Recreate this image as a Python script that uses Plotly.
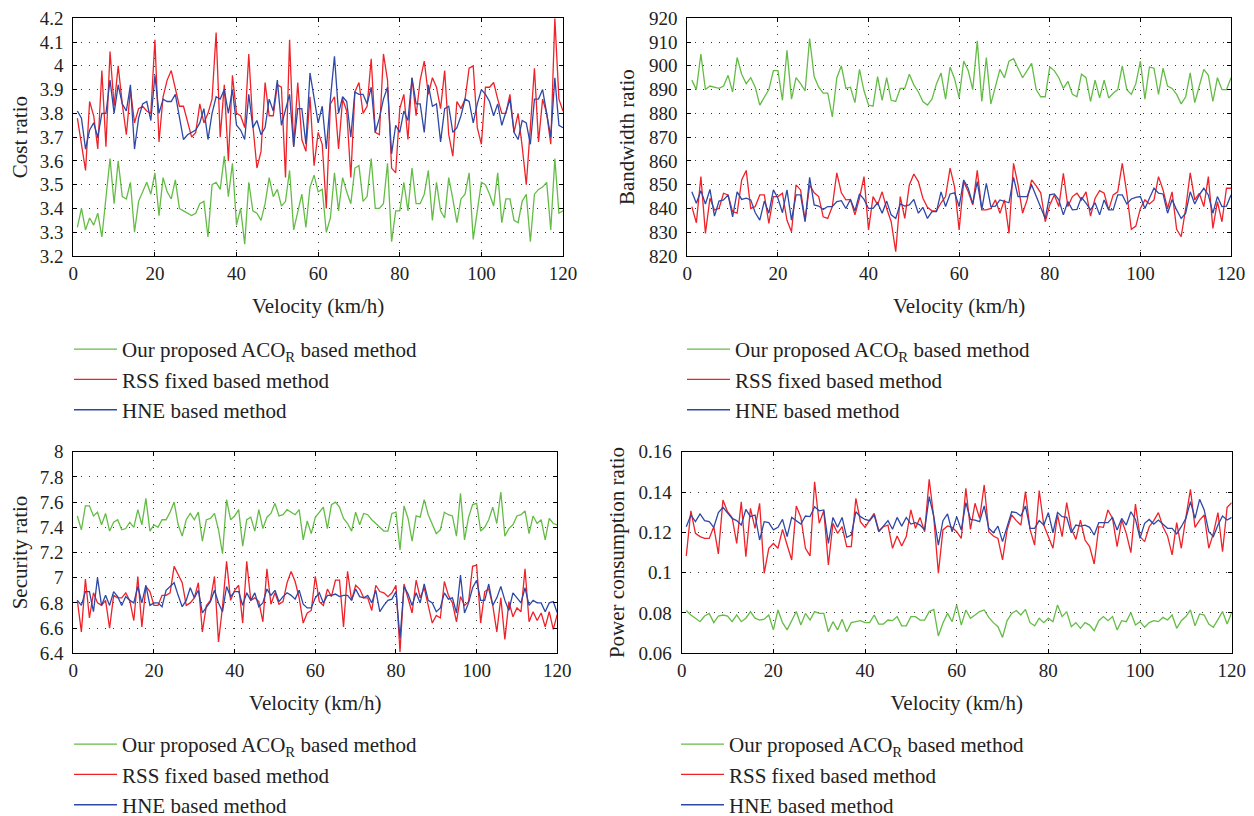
import plotly.graph_objects as go

velocity = list(range(1, 121))

# ---- Cost ratio ----
cost_aco = [3.32,3.40,3.31,3.36,3.33,3.38,3.28,3.45,3.61,3.42,3.60,3.45,3.44,3.51,3.30,3.43,3.47,3.51,3.46,3.55,
            3.37,3.53,3.47,3.44,3.52,3.40,3.39,3.38,3.37,3.38,3.42,3.43,3.28,3.50,3.51,3.48,3.62,3.45,3.59,3.33,
            3.40,3.25,3.51,3.39,3.38,3.35,3.42,3.53,3.45,3.48,3.41,3.43,3.56,3.31,3.38,3.46,3.32,3.49,3.54,3.47,
            3.48,3.30,3.36,3.55,3.39,3.53,3.47,3.42,3.57,3.58,3.43,3.45,3.61,3.40,3.40,3.42,3.59,3.26,3.39,3.39,
            3.51,3.39,3.57,3.42,3.42,3.46,3.56,3.35,3.51,3.39,3.36,3.53,3.44,3.34,3.44,3.46,3.55,3.27,3.39,3.51,
            3.50,3.46,3.41,3.55,3.34,3.44,3.44,3.35,3.34,3.43,3.46,3.26,3.46,3.48,3.49,3.51,3.31,3.61,3.38,3.39]
cost_rss = [3.78,3.66,3.56,3.85,3.79,3.65,3.98,3.66,4.06,3.83,4.00,3.84,3.71,3.90,3.76,3.82,3.83,3.81,3.80,4.11,
            3.68,3.87,3.94,3.98,3.90,3.83,3.83,3.76,3.70,3.72,3.84,3.76,3.80,3.86,4.14,3.70,3.92,3.60,3.96,3.80,
            3.79,3.74,4.05,3.75,3.57,3.64,3.93,3.79,3.79,3.92,3.91,3.53,4.11,3.66,3.93,3.69,
            3.64,3.87,3.58,3.72,3.67,3.40,3.84,3.87,3.65,3.86,3.81,3.53,3.89,3.93,3.80,3.83,4.03,3.72,3.71,4.05,
            3.94,3.57,3.55,3.82,3.88,3.69,3.95,3.79,3.94,4.02,3.88,3.95,3.91,3.82,3.98,3.71,3.62,3.85,3.82,3.86,
            3.99,4.00,3.74,3.67,3.91,3.91,3.93,3.86,3.80,3.80,3.88,3.72,3.80,3.66,3.50,3.74,3.99,3.68,3.86,3.80,
            3.67,4.20,3.86,3.81]
cost_hne = [3.81,3.78,3.65,3.73,3.76,3.70,3.80,3.80,3.94,3.80,3.92,3.84,3.81,3.92,3.65,3.78,3.84,3.85,3.77,3.96,
            3.80,3.86,3.85,3.85,3.88,3.78,3.69,3.71,3.72,3.73,3.76,3.82,3.69,3.80,3.87,3.86,3.90,3.80,3.90,3.75,
            3.73,3.69,3.88,3.74,3.77,3.71,3.74,3.86,3.81,3.94,3.75,3.81,3.88,3.66,3.82,3.82,3.67,
            3.97,3.87,3.76,3.83,3.65,3.86,4.04,3.80,3.87,3.85,3.70,3.89,3.88,3.88,3.84,3.91,3.72,3.78,3.86,3.91,
            3.63,3.75,3.72,3.81,3.77,3.95,3.84,3.84,3.72,3.92,3.83,3.84,3.68,3.82,3.83,3.72,3.74,3.79,3.86,3.85,
            3.76,3.84,3.90,3.88,3.85,3.79,3.84,3.75,3.81,3.86,3.72,3.69,3.77,3.76,3.67,3.86,3.86,3.90,3.80,3.70,
            3.95,3.75,3.74]

# ---- Bandwidth ratio ----
bw_aco = [894,890,905,890,891.5,891,890.5,891.5,896,889,903.5,896.5,892.5,895,891,883.5,887,890,898,898,
          885.5,906.5,886,895,892.5,889.5,911.5,895.5,891,888.5,888.5,878.5,895,900,890.5,891,884.5,898.5,889.5,883.5,
          883,895.5,885.5,895,885.5,885,890.5,890.5,896.5,892,889,885,883.5,886,892.5,
          897,886,899.5,894.5,886.5,902,898,890,910.5,885,903.5,884,891,898.5,895,902,903,899,895,898,
          901,890,887,887,899.5,898,895,890.5,893.5,888,887,896.5,895,885,894,886.5,894,886.5,888.5,890,
          900,890,888,892.5,902,886,899.5,899,888,899,891.5,890.5,888,884,887,897,884.5,891.5,898.5,896,
          885,895,890,890,895]
bw_rss = [840.8,834,853.4,829.5,844.3,839.4,840,846.4,845.7,838.7,838,852,856,840,840.8,845.7,845.7,833.7,845,845,
          846.4,835,830.2,849.9,847.8,835,849.9,846.6,845,836.5,835.8,840.8,855,846.6,843.6,843.8,837.3,844.3,853.4,831,
          845,841.5,847,840,834.4,821.8,845,835.8,849.9,854.5,851.3,844.3,840.5,839,839,
          842.4,845,857,849,831,851.3,847,841.5,856,839.4,839.4,840,843.6,838,843.6,829.5,859,849.9,838,843.6,
          852,849.5,846.6,834.4,841.5,845.7,840.8,854.8,840.8,845,846.4,843.6,847,836.8,844.3,847.5,846.4,839.4,845.7,847,
          859,846.4,831.2,832.6,840,843.6,841.9,843.6,853.4,847.8,840,847,831.2,828.1,840,855,843.6,846.4,840.8,853.4,
          831.6,842.9,834.4,848.5,848.5]
bw_hne = [847,842.2,847.5,841.9,848,836.8,843.1,843.6,845.7,836.5,847,843.8,844.3,843.6,838.2,835.1,843.1,838,847.8,844.3,
          838.2,847.8,835.1,845.7,845.7,834.4,853.1,841.5,841,839.6,840.8,840.8,842.9,843.3,840,843.8,839,846.1,843.8,840,
          840,842.4,838,843.1,837.3,835.8,841.9,841,841.5,843.8,838,840.5,835.8,838.7,838.7,
          847,840.8,846.1,846.6,840.8,852,848.5,841.9,851.3,839.6,850.6,840.8,841,843.6,842.9,842.4,853.1,845,845,845,
          849.9,845,840,835.8,845.7,846.1,843.6,837.3,842.9,839.4,839.6,844.7,842.2,839.4,842.4,837.3,843.6,839.4,839.4,845.7,
          845.7,841.9,844,844.7,845,840,844.3,848.5,846.4,846.1,838,843.8,839.4,835.8,838,847,841.9,845.7,848.5,845.7,
          838,845,840.8,841,845.7]

# ---- Security ratio ----
sec_aco = [7.49,7.38,7.57,7.57,7.49,7.52,7.42,7.51,7.37,7.44,7.46,7.38,7.39,7.44,7.40,7.54,7.42,7.63,7.37,7.42,
           7.40,7.46,7.46,7.52,7.60,7.42,7.33,7.46,7.51,7.46,7.52,7.29,7.46,7.47,7.51,7.38,7.19,7.62,7.46,7.49,
           7.54,7.25,7.46,7.48,7.37,7.54,7.39,7.48,7.51,7.59,7.49,7.50,7.54,7.52,7.50,7.54,7.30,7.45,7.35,7.48,
           7.52,7.56,7.39,7.58,7.60,7.56,7.47,7.43,7.37,7.52,7.42,7.51,7.50,7.46,7.43,7.40,7.37,7.37,7.51,7.52,
           7.22,7.57,7.47,7.29,7.49,7.48,7.62,7.50,7.42,7.35,7.38,7.52,7.50,7.49,7.33,7.67,7.30,7.48,7.58,7.59,
           7.37,7.40,7.46,7.56,7.43,7.68,7.33,7.39,7.42,7.49,7.50,7.53,7.35,7.49,7.43,7.46,7.30,7.47,7.43,7.42]
sec_rss = [6.82,6.57,6.99,6.68,6.88,6.80,6.78,6.82,6.60,6.86,6.84,6.84,6.88,6.82,6.66,7.01,6.61,6.93,6.89,6.78,
           6.78,6.86,6.86,6.88,7.09,7.03,6.96,6.78,6.80,6.84,6.96,6.57,6.78,6.82,7.01,6.49,6.77,7.13,6.82,6.90,
           6.94,6.64,7.13,6.82,6.84,6.81,6.65,7.07,6.79,6.88,6.79,6.81,6.96,7.05,6.97,6.84,
           6.64,6.72,6.74,7.01,6.81,6.78,6.91,6.85,6.98,6.98,6.61,7.05,6.82,6.94,6.91,6.84,6.84,6.74,6.94,6.89,
           6.88,6.85,6.88,6.94,6.41,6.95,6.84,6.72,6.98,6.84,6.92,6.78,6.64,6.70,6.68,6.97,6.86,6.80,6.65,6.85,
           6.78,6.81,7.09,7.10,6.64,6.89,6.91,6.78,6.57,6.84,6.51,6.81,6.69,6.76,6.73,7.07,6.65,6.73,6.66,6.72,
           6.61,6.73,6.59,6.71]
sec_hne = [6.82,6.78,6.89,6.89,6.73,7.00,6.78,6.86,6.78,6.89,6.85,6.78,6.85,6.82,6.80,6.93,6.80,6.94,6.78,6.80,
           6.80,6.77,6.90,6.93,6.96,6.86,6.77,6.82,6.92,6.84,6.90,6.72,6.77,6.81,6.90,6.80,6.73,6.93,6.85,6.89,
           6.89,6.78,6.88,6.82,6.88,6.77,6.80,6.91,6.86,6.90,6.81,6.85,6.88,6.86,6.83,6.90,6.79,6.76,6.76,6.84,
           6.88,6.80,6.86,6.86,6.87,6.85,6.86,6.86,6.82,6.91,6.85,6.84,6.86,6.80,6.90,6.73,6.78,6.82,6.83,6.89,
           6.52,6.93,6.87,6.78,6.88,6.80,6.95,6.82,6.80,6.73,6.76,6.88,6.83,6.84,6.72,7.02,6.72,6.80,6.92,6.98,
           6.82,6.82,6.95,6.78,6.84,6.93,6.82,6.74,6.88,6.84,6.80,6.92,6.78,6.82,6.80,6.80,6.73,6.80,6.81,6.72]

# ---- Power consumption ratio ----
pw_aco = [0.0812,0.0790,0.0774,0.0757,0.0785,0.0798,0.0752,0.0785,0.0790,0.0785,0.0757,0.0790,0.0757,0.0774,0.0807,
          0.0774,0.0765,0.0769,0.0790,0.0716,0.0815,0.0752,0.0716,0.0765,0.0807,0.0740,0.0798,0.0765,0.0807,0.0798,
          0.0798,0.0707,0.0757,0.0716,0.0769,0.0707,0.0752,0.0757,0.0762,0.0752,0.0752,0.0790,0.0745,0.0745,0.0765,
          0.0762,0.0782,0.0736,0.0736,0.0782,0.0782,0.0765,0.0765,0.0807,0.0818,
          0.0686,0.0750,0.0798,0.0757,0.0840,0.0740,0.0815,0.0774,0.0790,0.0807,0.0815,0.0778,0.0752,0.0732,0.0679,
          0.0762,0.0798,0.0812,0.0790,0.0818,0.0752,0.0736,0.0774,0.0752,0.0774,0.0757,0.0840,0.0782,0.0807,0.0732,
          0.0752,0.0724,0.0752,0.0740,0.0712,0.0762,0.0782,0.0762,0.0782,0.0716,0.0762,0.0757,0.0802,0.0740,0.0757,
          0.0729,0.0752,0.0762,0.0757,0.0778,0.0765,0.0790,0.0724,0.0762,0.0782,0.0815,0.0736,0.0795,0.0790,0.0745,
          0.0729,0.0765,0.0807,0.0745,0.0802]
pw_rss = [0.1083,0.1307,0.1195,0.1179,0.1170,0.1170,0.1228,0.1093,0.1360,0.1302,0.1274,0.1145,0.1352,0.1079,0.1319,
          0.1220,0.1344,0.0997,0.1121,0.1145,0.1121,0.1215,0.1137,0.1063,0.1331,0.1274,0.1121,0.1083,0.1451,0.1245,
          0.1307,0.1038,0.1245,0.1195,0.1228,0.1129,0.1129,0.1369,0.1253,0.1225,0.1261,0.1294,0.1208,0.1228,0.1236,
          0.1121,0.1182,0.1132,0.1179,0.1311,0.1220,0.1274,0.1203,0.1463,0.1274,
          0.0997,0.1212,0.1232,0.1225,0.1203,0.1170,0.1418,0.1215,0.1344,0.1269,0.1435,0.1203,0.1182,0.1170,0.1063,
          0.1212,0.1286,0.1258,0.1236,0.1402,0.1215,0.1137,0.1407,0.1236,0.1179,0.1121,0.1286,0.1179,0.1347,0.1220,
          0.1165,0.1261,0.1162,0.1129,0.1043,0.1228,0.1225,0.1311,0.1269,0.1129,0.1261,0.1195,0.1099,0.1340,0.1179,
          0.1154,0.1228,0.1258,0.1298,0.1228,0.1182,0.1088,0.1248,0.1121,0.1274,0.1413,0.1225,0.1261,0.1286,0.1121,
          0.1195,0.1298,0.1104,0.1324,0.1347]
pw_hne = [0.1228,0.1286,0.1253,0.1291,0.1258,0.1253,0.1225,0.1298,0.1324,0.1294,0.1269,0.1258,0.1236,0.1314,0.1278,
          0.1286,0.1162,0.1253,0.1248,0.1212,0.1225,0.1264,0.1179,0.1274,0.1258,0.1241,0.1281,0.1278,0.1327,0.1307,
          0.1311,0.1145,0.1274,0.1225,0.1274,0.1175,0.1187,0.1302,0.1278,0.1264,0.1258,0.1286,0.1203,0.1228,0.1258,
          0.1215,0.1274,0.1231,0.1274,0.1241,0.1248,0.1236,0.1212,0.1377,0.1278,
          0.1137,0.1258,0.1291,0.1203,0.1278,0.1212,0.1347,0.1264,0.1261,0.1253,0.1331,0.1220,0.1198,0.1231,0.1154,
          0.1225,0.1302,0.1298,0.1281,0.1331,0.1220,0.1220,0.1258,0.1236,0.1298,0.1198,0.1298,0.1278,0.1274,0.1198,
          0.1236,0.1231,0.1236,0.1225,0.1187,0.1248,0.1248,0.1248,0.1274,0.1212,0.1269,0.1236,0.1302,0.1264,0.1170,
          0.1245,0.1264,0.1241,0.1261,0.1241,0.1220,0.1220,0.1192,0.1228,0.1269,0.1352,0.1269,0.1364,0.1311,0.1203,
          0.1179,0.1236,0.1281,0.1261,0.1274]

series_names = ["Our proposed ACO<sub>R</sub> based method", "RSS fixed based method", "HNE based method"]
colors = ["#64BC46", "#EE2228", "#2D48A6"]
x_title = "Velocity (km/h)"

# positions below are in page pixels (as seen in the screenshot)
panels = [
    dict(data=[cost_aco, cost_rss, cost_hne], ytitle="Cost ratio", yrange=[3.2, 4.2], dtick=0.1,
         xdom=[73.3, 563], ydom=[18.3, 256], legend_xy=(69, 329)),
    dict(data=[bw_aco, bw_rss, bw_hne], ytitle="Bandwidth ratio", yrange=[820, 920], dtick=10,
         xdom=[687.3, 1231], ydom=[18.3, 256], legend_xy=(682, 329)),
    dict(data=[sec_aco, sec_rss, sec_hne], ytitle="Security ratio", yrange=[6.4, 8], dtick=0.2,
         xdom=[73.3, 557.3], ydom=[451.7, 653.3], legend_xy=(69, 724)),
    dict(data=[pw_aco, pw_rss, pw_hne], ytitle="Power consumption ratio", yrange=[0.06, 0.16], dtick=0.02,
         xdom=[681.7, 1231.7], ydom=[451.7, 653.3], legend_xy=(676, 724)),
]

W, H = 1254, 816
OFF = 8  # page body margin
FONT = "Liberation Serif"
fig = go.Figure()
layout = dict(width=W, height=H, margin=dict(l=0, r=0, t=0, b=0, autoexpand=False), paper_bgcolor="white",
              plot_bgcolor="white", font=dict(family=FONT, size=19, color="#222"))

for i, p in enumerate(panels):
    k = "" if i == 0 else str(i + 1)
    leg = "legend" + k
    for name, vals, col in zip(series_names, p["data"], colors):
        fig.add_trace(go.Scatter(x=velocity, y=vals, mode="lines", name=name,
                                 line=dict(color=col, width=1.3),
                                 xaxis="x" + k, yaxis="y" + k, legend=leg))
    axcommon = dict(showline=True, linecolor="black", linewidth=1.2, mirror="ticks",
                    ticks="inside", ticklen=4, tickcolor="black", automargin=False,
                    ticklabeloverflow="allow",
                    showgrid=True, gridcolor="#333", griddash="1px,7px", gridwidth=1,
                    zeroline=False, tickfont=dict(family=FONT, size=19, color="#222"))
    x0, x1 = p["xdom"][0] - OFF, p["xdom"][1] - OFF
    y0, y1 = p["ydom"][0] - OFF, p["ydom"][1] - OFF
    layout["xaxis" + k] = dict(axcommon, domain=[x0 / W, x1 / W],
                               range=[0, 120], dtick=20, tick0=0, anchor="y" + k,
                               title=dict(text=x_title, font=dict(family=FONT, size=21)))
    layout["yaxis" + k] = dict(axcommon, domain=[1 - y1 / H, 1 - y0 / H],
                               range=p["yrange"], dtick=p["dtick"], anchor="x" + k,
                               ticklabelstandoff=5,
                               title=dict(text=p["ytitle"], font=dict(family=FONT, size=21), standoff=8))
    lx, ly = p["legend_xy"]
    layout[leg] = dict(x=(lx - OFF) / W, y=1 - (ly - OFF) / H, xanchor="left", yanchor="top",
                       bgcolor="rgba(0,0,0,0)", font=dict(family=FONT, size=21, color="#222"),
                       tracegroupgap=0, itemwidth=43)

fig.update_layout(**layout)
fig.write_html("out.html")
